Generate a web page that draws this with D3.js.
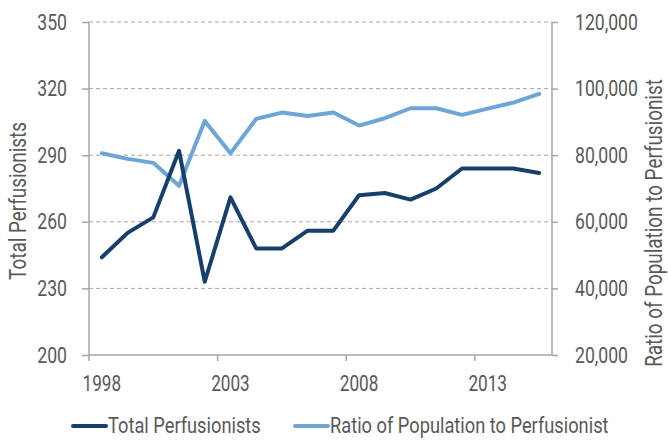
<!doctype html>
<html>
<head>
    <meta charset="utf-8">
    <title>Perfusionists</title>
    <style>
        body { margin: 0; background: #FFFFFF; }
        svg text {
            font-family: Roboto, "DejaVu Sans Condensed", sans-serif;
            fill: #595959;
        }
        .grid line { stroke: #A6A6A6; stroke-width: 1; stroke-dasharray: 4,3; }
        .axis-line { stroke: #A6A6A6; stroke-width: 1.5; }
    </style>
</head>
<body>
    <div id="chart"></div>

    <script src="https://cdn.jsdelivr.net/npm/d3@7"></script>
    <script>
        var years = ['1998', '1999', '2000', '2001', '2002', '2003', '2004', '2005', '2006',
            '2007', '2008', '2009', '2010', '2011', '2012', '2013', '2014', '2015'];
        var total_perfusionists = [244, 255, 262, 292, 233, 271, 248, 248, 256,
            256, 272, 273, 270, 275, 284, 284, 284, 282];
        var population_ratio = [80600, 78900, 77700, 70800, 90300, 80600, 90900, 92800, 91800,
            92800, 88900, 91100, 94100, 94100, 92100, 94000, 95800, 98400];
        var year_labels = ['1998', '2003', '2008', '2013'];
        var left_ticks = [200, 230, 260, 290, 320, 350];
        var right_ticks = [20000, 40000, 60000, 80000, 100000, 120000];

        var svg_width = 668;
        var svg_height = 442;
        var plot = { left: 89, right: 552, top: 22, bottom: 355 };

        var dark = '#173F6B';
        var light = '#6DA5D6';

        var svg = d3.select('#chart').append('svg')
            .attr('width', svg_width)
            .attr('height', svg_height);

        var x = d3.scaleBand()
            .domain(years)
            .range([plot.left, plot.right]);

        var y_left = d3.scaleLinear()
            .domain([200, 350])
            .range([plot.bottom, plot.top]);

        var y_right = d3.scaleLinear()
            .domain([20000, 120000])
            .range([plot.bottom, plot.top]);

        // dashed gridlines
        svg.append('g')
            .attr('class', 'grid')
          .selectAll('line')
            .data(left_ticks.slice(1))
          .enter().append('line')
            .attr('x1', plot.left)
            .attr('x2', plot.right)
            .attr('y1', function(d) { return y_left(d); })
            .attr('y2', function(d) { return y_left(d); });

        // left axis
        var left_axis = d3.axisLeft(y_left)
            .tickValues(left_ticks)
            .tickSize(7)
            .tickPadding(15);

        var gl = svg.append('g')
            .attr('transform', 'translate(' + plot.left + ',0)')
            .call(left_axis);

        // right axis
        var right_axis = d3.axisRight(y_right)
            .tickValues(right_ticks)
            .tickSize(6)
            .tickPadding(17)
            .tickFormat(d3.format(','));

        var gr = svg.append('g')
            .attr('transform', 'translate(' + plot.right + ',0)')
            .call(right_axis);

        // bottom axis: ticks on band edges, labels on band centres
        var gb = svg.append('g')
            .attr('transform', 'translate(0,' + plot.bottom + ')');

        gb.append('line')
            .attr('class', 'axis-line')
            .attr('x1', plot.left)
            .attr('x2', plot.right);

        gb.selectAll('line.tick')
            .data(year_labels)
          .enter().append('line')
            .attr('class', 'axis-line tick')
            .attr('x1', function(d) { return x(d); })
            .attr('x2', function(d) { return x(d); })
            .attr('y1', 0)
            .attr('y2', 6);

        gb.selectAll('text')
            .data(year_labels)
          .enter().append('text')
            .attr('class', 'narrow')
            .attr('data-squeeze', 0.78)
            .attr('x', function(d) { return x(d) + x.bandwidth() / 2; })
            .attr('y', 36)
            .attr('text-anchor', 'middle')
            .style('font-size', '22px')
            .text(function(d) { return d; });

        [gl, gr].forEach(function(g) {
            g.select('.domain').remove();
            g.append('line')
                .attr('class', 'axis-line')
                .attr('y1', plot.top)
                .attr('y2', plot.bottom);
            g.selectAll('.tick line').attr('class', 'axis-line');
            g.selectAll('.tick text')
                .attr('class', 'narrow')
                .attr('data-squeeze', 0.8)
                .attr('fill', null)
                .style('font-size', '22px');
        });

        // lines
        var line_left = d3.line()
            .x(function(d, i) { return x(years[i]) + x.bandwidth() / 2; })
            .y(function(d) { return y_left(d); });

        var line_right = d3.line()
            .x(function(d, i) { return x(years[i]) + x.bandwidth() / 2; })
            .y(function(d) { return y_right(d); });

        svg.append('path')
            .datum(population_ratio)
            .attr('d', line_right)
            .attr('fill', 'none')
            .attr('stroke', light)
            .attr('stroke-width', 4)
            .attr('stroke-linejoin', 'round')
            .attr('stroke-linecap', 'round');

        svg.append('path')
            .datum(total_perfusionists)
            .attr('d', line_left)
            .attr('fill', 'none')
            .attr('stroke', dark)
            .attr('stroke-width', 4)
            .attr('stroke-linejoin', 'round')
            .attr('stroke-linecap', 'round');

        // axis titles
        svg.append('text')
            .attr('class', 'narrow')
            .attr('data-squeeze', 0.82)
            .attr('transform', 'translate(26,201) rotate(-90)')
            .attr('text-anchor', 'middle')
            .style('font-size', '23px')
            .text('Total Perfusionists');

        svg.append('text')
            .attr('class', 'narrow')
            .attr('data-squeeze', 0.82)
            .attr('transform', 'translate(662,223) rotate(-90)')
            .attr('text-anchor', 'middle')
            .style('font-size', '23px')
            .text('Ratio of Population to Perfusionist');

        // legend
        var legend = [
            { name: 'Total Perfusionists', color: dark, x: 73 },
            { name: 'Ratio of Population to Perfusionist', color: light, x: 295 }
        ];

        var lg = svg.selectAll('g.legend')
            .data(legend)
          .enter().append('g')
            .attr('class', 'legend')
            .attr('transform', function(d) { return 'translate(' + d.x + ',426)'; });

        lg.append('line')
            .attr('x1', 0)
            .attr('x2', 33)
            .attr('stroke', function(d) { return d.color; })
            .attr('stroke-width', 4)
            .attr('stroke-linecap', 'round');

        lg.append('text')
            .attr('class', 'narrow')
            .attr('data-squeeze', 0.83)
            .attr('x', 35)
            .attr('y', 7)
            .style('font-size', '22px')
            .text(function(d) { return d.name; });

        // the original uses a condensed face, so squeeze every label
        svg.selectAll('text.narrow').each(function() {
            var len = this.getComputedTextLength();
            var f = +this.getAttribute('data-squeeze');
            d3.select(this)
                .attr('textLength', len * f)
                .attr('lengthAdjust', 'spacingAndGlyphs');
        });
    </script>
</body>
</html>
